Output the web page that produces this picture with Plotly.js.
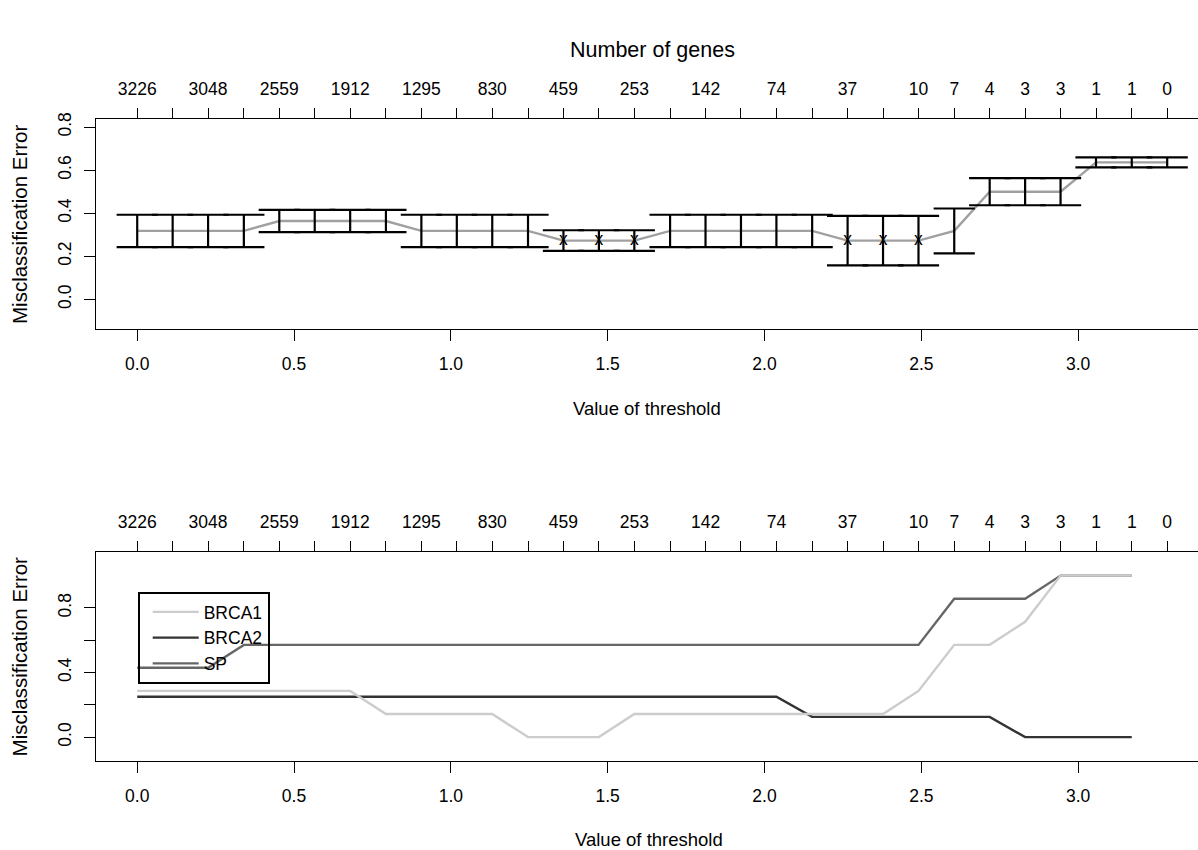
<!DOCTYPE html>
<html>
<head>
<meta charset="utf-8">
<script src="https://cdn.plot.ly/plotly-3.0.1.min.js"></script>
<style>html,body{margin:0;padding:0;background:#fff;}#chart{width:1198px;height:850px;}</style>
</head>
<body>
<div id="chart"></div>
<script>
// Threshold values (30 steps)
const thresholds = [0.000, 0.113, 0.226, 0.340, 0.453, 0.566, 0.679, 0.793, 0.906, 1.019,
                    1.132, 1.246, 1.359, 1.472, 1.585, 1.699, 1.812, 1.925, 2.038, 2.152,
                    2.265, 2.378, 2.491, 2.605, 2.718, 2.831, 2.944, 3.057, 3.171, 3.284];
// Number of genes labels shown on the top axis ("" = label not drawn)
const geneLabels = ["3226","","3048","","2559","","1912","","1295","",
                    "830","","459","","253","","142","","74","",
                    "37","","10","7","4","3","3","1","1","0"];
// Overall CV misclassification error and its standard error
const cvError = [0.318,0.318,0.318,0.318,0.364,0.364,0.364,0.364,0.318,0.318,
                 0.318,0.318,0.273,0.273,0.273,0.318,0.318,0.318,0.318,0.318,
                 0.273,0.273,0.273,0.318,0.500,0.500,0.500,0.636,0.636,0.636];
const cvSE    = [0.075,0.075,0.075,0.075,0.052,0.052,0.052,0.052,0.075,0.075,
                 0.075,0.075,0.048,0.048,0.048,0.075,0.075,0.075,0.075,0.075,
                 0.115,0.115,0.115,0.104,0.063,0.063,0.063,0.023,0.023,0.023];
// Per-class error (first 29 thresholds)
const classNames = ["BRCA1","BRCA2","SP"];
const errBRCA1 = [0.286,0.286,0.286,0.286,0.286,0.286,0.286,0.143,0.143,0.143,
                  0.143,0,0,0,0.143,0.143,0.143,0.143,0.143,0.143,
                  0.143,0.143,0.286,0.571,0.571,0.714,1,1,1];
const errBRCA2 = [0.25,0.25,0.25,0.25,0.25,0.25,0.25,0.25,0.25,0.25,
                  0.25,0.25,0.25,0.25,0.25,0.25,0.25,0.25,0.25,0.125,
                  0.125,0.125,0.125,0.125,0.125,0,0,0,0];
const errSP    = [0.429,0.429,0.429,0.571,0.571,0.571,0.571,0.571,0.571,0.571,
                  0.571,0.571,0.571,0.571,0.571,0.571,0.571,0.571,0.571,0.571,
                  0.571,0.571,0.571,0.857,0.857,0.857,1,1,1];
const classColors = ["#cccccc","#333333","#666666"];

const FONT = "Liberation Sans, Arial, Helvetica, sans-serif";
const FS = 17.5;
const W = 1198, H = 850;
const xRange = [-0.1314, 3.3822];
const xDomain = [96 / W, 1];

const minErr = Math.min(...cvError);
const minX = [], minY = [];
cvError.forEach((e, i) => { if (e === minErr) { minX.push(thresholds[i]); minY.push(e); } });

const thr29 = thresholds.slice(0, thresholds.length - 1);
const classSeries = [errBRCA1, errBRCA2, errSP];

const traces = [
  { x: thresholds, y: cvError, xaxis: "x", yaxis: "y", mode: "lines",
    line: { color: "#a0a0a0", width: 2.4 }, showlegend: false, hoverinfo: "skip" },
  { x: minX, y: minY, xaxis: "x2", yaxis: "y", mode: "text", text: minX.map(() => "x"),
    textposition: "middle center", textfont: { family: FONT, size: FS, color: "#000" },
    showlegend: false, hoverinfo: "skip" },
  { x: thresholds, y: cvError, xaxis: "x", yaxis: "y", mode: "markers",
    marker: { size: 1, opacity: 0 },
    error_y: { type: "data", array: cvSE, symmetric: true, color: "#000", thickness: 2.2, width: 20.6 },
    showlegend: false, hoverinfo: "skip" }
];
classSeries.forEach((s, k) => {
  traces.push({ x: thr29, y: s, xaxis: k === 0 ? "x4" : "x3", yaxis: "y2", mode: "lines", name: classNames[k],
    line: { color: classColors[k], width: 2.4 }, hoverinfo: "skip" });
});

const tickFont = { family: FONT, size: FS, color: "#000" };
function bottomX(anchor) {
  return { domain: xDomain, range: xRange, anchor: anchor, showgrid: false, zeroline: false,
    showline: true, linecolor: "#000", linewidth: 1, mirror: true,
    ticks: "outside", ticklen: 11, tickwidth: 1, tickcolor: "#000", ticklabelstandoff: 8,
    tickmode: "linear", tick0: 0, dtick: 0.5, tickformat: ".1f", tickfont: tickFont };
}
function topX(over, anchor) {
  return { overlaying: over, side: "top", anchor: anchor, range: xRange, showgrid: false, zeroline: false,
    showline: false, ticks: "outside", ticklen: 10, tickwidth: 1, tickcolor: "#000", ticklabelstandoff: 6,
    tickmode: "array", tickvals: thresholds, ticktext: geneLabels, tickfont: tickFont };
}
function yAx(domain, range, labels) {
  return { domain: domain, range: range, showgrid: false, zeroline: false,
    showline: true, linecolor: "#000", linewidth: 1, mirror: false,
    ticks: "outside", ticklen: 11, tickwidth: 1, tickcolor: "#000", ticklabelstandoff: 6,
    tickmode: "array", tickvals: [0, 0.2, 0.4, 0.6, 0.8], ticktext: labels,
    tickangle: -90, tickfont: tickFont };
}

const titleFont = { family: FONT, size: 18.5, color: "#000" };
const yTitleFont = { family: FONT, size: 20.5, color: "#000" };
const layout = {
  width: W, height: H, margin: { l: 0, r: 0, t: 0, b: 0 },
  paper_bgcolor: "#fff", plot_bgcolor: "#fff",
  font: { family: FONT, size: FS, color: "#000" },
  xaxis: bottomX("y"),
  xaxis2: topX("x", "y"),
  xaxis3: bottomX("y2"),
  xaxis4: topX("x3", "y2"),
  yaxis: Object.assign(yAx([1 - 328.7 / H, 1 - 119.3 / H], [-0.136, 0.836], ["0.0","0.2","0.4","0.6","0.8"]), { anchor: "x" }),
  yaxis2: Object.assign(yAx([1 - 761 / H, 1 - 551.7 / H], [-0.148, 1.148], ["0.0","","0.4","","0.8"]), { anchor: "x3" }),
  showlegend: true,
  legend: { x: 137.7 / W, y: 1 - 592 / H, xanchor: "left", yanchor: "top",
    bgcolor: "rgba(0,0,0,0)", bordercolor: "#000", borderwidth: 2, itemwidth: 46,
    font: { family: FONT, size: FS, color: "#000" }, traceorder: "normal", indentation: 8 },
  annotations: [
    { text: "Number of genes", xref: "paper", yref: "paper", x: 652 / W, y: 1 - 50 / H,
      showarrow: false, xanchor: "center", yanchor: "middle", font: { family: FONT, size: 21.5, color: "#000" } },
    { text: "Value of threshold", xref: "paper", yref: "paper", x: 647 / W, y: 1 - 408 / H,
      showarrow: false, xanchor: "center", yanchor: "middle", font: titleFont },
    { text: "Value of threshold", xref: "paper", yref: "paper", x: 649 / W, y: 1 - 839 / H,
      showarrow: false, xanchor: "center", yanchor: "middle", font: titleFont },
    { text: "Misclassification Error", xref: "paper", yref: "paper", x: 19 / W, y: 1 - 224 / H,
      showarrow: false, xanchor: "center", yanchor: "middle", textangle: -90, font: yTitleFont },
    { text: "Misclassification Error", xref: "paper", yref: "paper", x: 19 / W, y: 1 - 656.4 / H,
      showarrow: false, xanchor: "center", yanchor: "middle", textangle: -90, font: yTitleFont }
  ]
};

Plotly.newPlot("chart", traces, layout, { staticPlot: true, displayModeBar: false });
</script>
</body>
</html>
